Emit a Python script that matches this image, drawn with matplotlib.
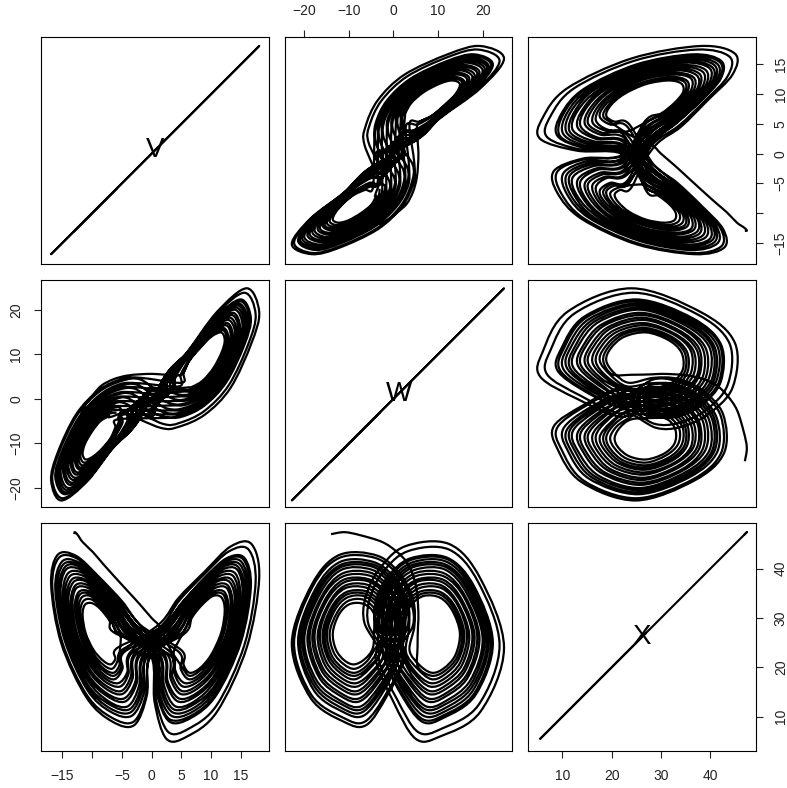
import matplotlib
matplotlib.use("Agg")
import matplotlib.pyplot as plt
from matplotlib.path import Path
from matplotlib.patches import PathPatch

plt.rcParams['font.family'] = ['Liberation Sans', 'DejaVu Sans']

# trajectory: the tail and first turn, then one row per turn
V = [
    -13,-12.9,-12.4,-11.6,-9.9,-8.4,-6.4,-4.2,-2,0,1.4,3,
    5.1,6.3,8,10.2,12,12.6,12.1,10.6,8.6,6.7,5.3,
    3.7,4.1,5.6,7.9,10.3,12.5,13.3,12.7,10.9,8.6,6.4,4.5,
    3,3.5,5.1,7.7,10.5,12.9,14,13.2,11.2,8.7,6.1,3.9,
    2.3,2.7,4.6,7.5,10.7,13.5,14.6,13.8,11.6,8.7,5.9,3.3,
    1.6,2.1,4,7.2,10.7,14,15.3,14.4,11.9,8.8,5.6,2.7,
    1,1.5,3.5,7,10.8,14.4,15.9,14.9,12.2,8.8,5.3,2.3,
    .5,1,3,6.8,10.9,14.9,16.5,15.4,12.5,8.8,5.1,2,
    .2,.7,2.8,6.3,11,15.6,17.5,16.3,13,8.9,4.7,1.9,
    0,.5,2.5,6,11,16,18.1,16.8,13.3,9,4.5,1.5,
    -5.7,-6.1,-6.9,-8.2,-9.8,-11.1,-11.6,-11.2,-10,-8.6,-7.1,-6.1,
    -5,-5.4,-6.4,-8.1,-10,-11.7,-12.3,-11.8,-10.4,-8.6,-6.8,-5.6,
    -4.6,-4.9,-6.2,-8,-10.2,-12.1,-12.9,-12.3,-10.7,-8.6,-6.6,-5.1,
    -3.4,-3.9,-5.3,-7.8,-10.4,-12.7,-13.6,-12.9,-11,-8.6,-6.3,-4.2,
    -2.7,-3.2,-4.9,-7.6,-10.6,-13.2,-14.3,-13.5,-11.4,-8.7,-6,-3.6,
    -2,-2.5,-4.4,-7.4,-10.7,-13.7,-14.9,-14.1,-11.7,-8.7,-5.8,-3.1,
    -1.3,-1.8,-3.7,-7.1,-10.8,-14.2,-15.6,-14.6,-12.1,-8.8,-5.4,-2.5,
    -.8,-1.2,-3.3,-6.9,-10.8,-14.6,-16.2,-15.1,-12.3,-8.8,-5.3,-2.1,
    -.3,-.8,-2.9,-6.6,-10.9,-15.2,-16.9,-15.8,-12.7,-8.9,-4.9,-1.7,
    5,5.4,6.4,8.1,10,11.7,12.3,11.8,10.4,8.6,6.8,5.6,
    4.6,4.9,6.2,8,10.2,12.1,12.9,12.3,10.7,8.6,6.6,5.1,
    3.4,3.9,5.3,7.8,10.4,12.7,13.6,12.9,11,8.6,6.3,4.2,
    2.7,3.2,4.9,7.6,10.6,13.2,14.3,13.5,11.4,8.7,6,3.6,
    2,2.5,4.4,7.4,10.7,13.7,14.9,14.1,11.7,8.7,5.8,3.1,
    1.3,1.8,3.7,7.1,10.8,14.2,15.6,14.6,12.1,8.8,5.4,2.5,
    .8,1.2,3.3,6.9,10.8,14.6,16.2,15.1,12.3,8.8,5.3,2.1,
    .4,.9,3,6.7,10.9,15,16.7,15.6,12.6,8.9,5.1,1.8,
    -5.3,-5.8,-6.7,-8.2,-9.9,-11.4,-12,-11.5,-10.2,-8.6,-7,-5.9,
    -4.8,-5.1,-6.3,-8,-10.2,-12,-12.6,-12.1,-10.6,-8.6,-6.7,-5.3,
    -3.7,-4.1,-5.6,-7.9,-10.3,-12.5,-13.3,-12.7,-10.9,-8.6,-6.4,-4.5,
    -3,-3.5,-5.1,-7.7,-10.5,-12.9,-14,-13.2,-11.2,-8.7,-6.1,-3.9,
    -2.3,-2.7,-4.6,-7.5,-10.7,-13.5,-14.6,-13.8,-11.6,-8.7,-5.9,-3.3,
    -1.6,-2.1,-4,-7.2,-10.7,-14,-15.3,-14.4,-11.9,-8.8,-5.6,-2.7,
    -1,-1.5,-3.5,-7,-10.8,-14.4,-15.9,-14.9,-12.2,-8.8,-5.3,-2.3,
    -.4,-.9,-3,-6.7,-10.9,-15,-16.7,-15.6,-12.6,-8.9,-5.1,-1.8,
]
W = [
    -14,-11,-7.5,-2.5,.8,3,4.4,5.2,5.5,5.6,5.5,5.4,
    5.5,8.5,11.4,14.3,15.4,13.6,10.6,6.7,3.8,2.2,2,
    2.3,5,8.3,11.6,15,16.5,14.4,10.9,6.3,2.9,1.1,1,
    1.4,4.4,8.1,11.7,15.8,17.7,15.1,11.1,5.9,2.1,.1,-.1,
    .5,3.8,7.7,11.7,16.5,18.8,15.9,11.4,5.4,1.2,-.9,-1.1,
    -.3,3.1,7.3,11.6,17.2,20,16.5,11.6,4.9,.3,-2,-2.2,
    -1.1,2.5,7,11.5,17.7,21,17.2,11.8,4.4,-.4,-2.9,-3.1,
    -1.8,1.8,6.5,11.3,18.2,21.9,17.8,12.1,4,-1.2,-3.7,-4,
    -3.3,.7,5.5,10.9,19.1,23.8,19,12.4,3.1,-2.7,-5.4,-5.6,
    -4,0,5,10.5,19.5,24.8,19.5,12.5,2.5,-3.5,-6.3,-6.5,
    -4.6,-6.4,-8.8,-11,-12.9,-13.6,-12.3,-10.1,-7.3,-5,-3.9,-3.7,
    -3.6,-5.8,-8.6,-11.3,-13.9,-14.9,-13.2,-10.5,-6.9,-4.1,-2.7,-2.5,
    -2.8,-5.4,-8.5,-11.4,-14.6,-15.9,-13.9,-10.7,-6.5,-3.4,-1.7,-1.6,
    -1.9,-4.8,-8.2,-11.7,-15.4,-17,-14.6,-11,-6.1,-2.5,-.7,-.5,
    -1,-4.1,-7.9,-11.7,-16.1,-18.2,-15.4,-11.3,-5.7,-1.7,.3,.5,
    -.2,-3.5,-7.6,-11.7,-16.7,-19.3,-16.1,-11.5,-5.2,-.8,1.3,1.5,
    .7,-2.8,-7.1,-11.6,-17.4,-20.5,-16.9,-11.8,-4.7,0,2.4,2.6,
    1.4,-2.2,-6.7,-11.4,-17.9,-21.4,-17.5,-11.9,-4.3,.8,3.3,3.5,
    2.5,-1.4,-6.1,-11.2,-18.6,-22.8,-18.3,-12.1,-3.5,1.9,4.5,4.7,
    3.6,5.8,8.6,11.3,13.9,14.9,13.2,10.5,6.9,4.1,2.7,2.5,
    2.8,5.4,8.5,11.4,14.6,15.9,13.9,10.7,6.5,3.4,1.7,1.6,
    1.9,4.8,8.2,11.7,15.4,17,14.6,11,6.1,2.5,.7,.5,
    1,4.1,7.9,11.7,16.1,18.2,15.4,11.3,5.7,1.7,-.3,-.5,
    .2,3.5,7.6,11.7,16.7,19.3,16.1,11.5,5.2,.8,-1.3,-1.5,
    -.7,2.8,7.1,11.6,17.4,20.5,16.9,11.8,4.7,0,-2.4,-2.6,
    -1.4,2.2,6.7,11.4,17.9,21.4,17.5,11.9,4.3,-.8,-3.3,-3.5,
    -2.1,1.6,6.4,11.3,18.4,22.3,18.1,12.1,3.8,-1.5,-4,-4.3,
    -4.1,-6.1,-8.7,-11.1,-13.4,-14.3,-12.7,-10.3,-7.1,-4.6,-3.3,-3.1,
    -3.2,-5.5,-8.5,-11.4,-14.3,-15.4,-13.6,-10.6,-6.7,-3.8,-2.2,-2,
    -2.3,-5,-8.3,-11.6,-15,-16.5,-14.4,-10.9,-6.3,-2.9,-1.1,-1,
    -1.4,-4.4,-8.1,-11.7,-15.8,-17.7,-15.1,-11.1,-5.9,-2.1,-.1,.1,
    -.5,-3.8,-7.7,-11.7,-16.5,-18.8,-15.9,-11.4,-5.4,-1.2,.9,1.1,
    .3,-3.1,-7.3,-11.6,-17.2,-20,-16.5,-11.6,-4.9,-.3,2,2.2,
    1.1,-2.5,-7,-11.5,-17.7,-21,-17.2,-11.8,-4.4,.4,2.9,3.1,
    2.1,-1.6,-6.4,-11.3,-18.4,-22.3,-18.1,-12.1,-3.8,1.5,4,4.3,
]
X = [
    47,47.4,46.8,45.4,43.4,41.3,38.6,35.7,32.8,30,28.2,24,
    20.1,18.3,19.2,22.1,26.8,31.8,34.7,35,33.3,30.3,27,
    22.9,19,16.8,17.8,21,26.7,32.6,36,36.2,34.1,30.8,27,
    22.6,18.1,15.2,16.3,19.8,26.5,33.3,37.2,37.5,35,31.3,27.2,
    22.3,17.2,13.7,14.7,18.6,26.2,34.1,38.4,38.6,35.8,31.7,27.4,
    22.1,16.3,12.1,13.1,17.3,25.8,34.9,39.8,39.8,36.6,32.2,27.7,
    22.1,15.6,10.9,11.7,16.1,25.5,35.5,40.8,40.8,37.2,32.6,27.9,
    22,14.9,9.5,10.3,14.8,25.2,36.2,41.9,41.8,37.9,33,28.2,
    22,13.7,6.9,7.6,12.4,24.5,37.3,43.9,43.5,38.9,33.6,28.7,
    22,13,5.5,6,11,24,38,45,44.5,39.5,34,29,
    24,21.7,20.6,21.4,23.6,27,30.6,32.7,33,31.8,29.5,26.9,
    23.5,20.5,18.9,19.8,22.5,27,31.5,34.1,34.5,32.8,30.1,26.9,
    23.1,19.7,17.6,18.5,21.6,26.8,32.2,35.2,35.5,33.7,30.5,27,
    22.8,18.6,16.1,17.1,20.5,26.6,32.8,36.5,36.8,34.5,31,27.1,
    22.5,17.7,14.6,15.6,19.3,26.3,33.6,37.7,37.9,35.3,31.5,27.3,
    22.3,16.8,13.1,14.1,18,26,34.4,39,39.2,36.1,32,27.6,
    22.1,15.9,11.5,12.5,16.6,25.7,35.2,40.3,40.4,36.9,32.4,27.7,
    22,15.2,10.2,11,15.4,25.4,35.9,41.4,41.3,37.6,32.8,28,
    21.9,14.3,8.3,9,13.8,24.9,36.8,42.8,42.6,38.4,33.3,28.4,
    23.5,20.5,18.9,19.8,22.5,27,31.5,34.1,34.5,32.8,30.1,26.9,
    23.1,19.7,17.6,18.5,21.6,26.8,32.2,35.2,35.5,33.7,30.5,27,
    22.8,18.6,16.1,17.1,20.5,26.6,32.8,36.5,36.8,34.5,31,27.1,
    22.5,17.7,14.6,15.6,19.3,26.3,33.6,37.7,37.9,35.3,31.5,27.3,
    22.3,16.8,13.1,14.1,18,26,34.4,39,39.2,36.1,32,27.6,
    22.1,15.9,11.5,12.5,16.6,25.7,35.2,40.3,40.4,36.9,32.4,27.7,
    22,15.2,10.2,11,15.4,25.4,35.9,41.4,41.3,37.6,32.8,28,
    22,14.7,9,9.8,14.4,25,36.4,42.2,42.1,38.1,33.1,28.3,
    23.8,21.1,19.7,20.6,23,27,31,33.4,33.8,32.3,29.8,26.9,
    23.3,20.1,18.3,19.2,22.1,26.8,31.8,34.7,35,33.3,30.3,27,
    22.9,19,16.8,17.8,21,26.7,32.6,36,36.2,34.1,30.8,27,
    22.6,18.1,15.2,16.3,19.8,26.5,33.3,37.2,37.5,35,31.3,27.2,
    22.3,17.2,13.7,14.7,18.6,26.2,34.1,38.4,38.6,35.8,31.7,27.4,
    22.1,16.3,12.1,13.1,17.3,25.8,34.9,39.8,39.8,36.6,32.2,27.7,
    22.1,15.6,10.9,11.7,16.1,25.5,35.5,40.8,40.8,37.2,32.6,27.9,
    22,14.7,9,9.8,14.4,25,36.4,42.2,42.1,38.1,33.1,28.3,
]

# the order the path takes the rows in, it keeps changing wing
turn_order = [0, 16, 17, 15, 18, 14, 19, 13, 20, 12, 21, 11, 22, 10, 23, 9, 24, 8,
              1, 32, 2, 31, 3, 30, 4, 29, 5, 28, 6, 27, 7, 26, 25]
HEAD = 23
TURN = 12

names = ['V', 'W', 'X']
limits = [(-18.55, 19.7), (-24.33, 26.66), (3.1, 49.2)]
ticks = [[-15, -10, -5, 0, 5, 10, 15], [-20, -10, 0, 10, 20], [10, 20, 30, 40]]
tick_labels = [['\u221215', '', '\u22125', '0', '5', '10', '15'],
               ['\u221220', '\u221210', '0', '10', '20'],
               ['10', '20', '30', '40']]

col_px = [(41.3, 268.7), (285, 512.3), (528.3, 755.7)]
row_px = [(36.5, 264), (280, 507.3), (523.3, 750.7)]


def in_order(vals):
    out = vals[:HEAD]
    for k in turn_order:
        out = out + vals[HEAD + k * TURN:HEAD + (k + 1) * TURN]
    return out


def curve(xs, ys):
    # bezier segments through the read points, so the turns stay round
    verts = [(xs[0], ys[0])]
    codes = [Path.MOVETO]
    n = len(xs)
    for i in range(n - 1):
        a = max(i - 1, 0)
        d = min(i + 2, n - 1)
        verts.append((xs[i] + (xs[i + 1] - xs[a]) / 6, ys[i] + (ys[i + 1] - ys[a]) / 6))
        verts.append((xs[i + 1] - (xs[d] - xs[i]) / 6, ys[i + 1] - (ys[d] - ys[i]) / 6))
        verts.append((xs[i + 1], ys[i + 1]))
        codes += [Path.CURVE4, Path.CURVE4, Path.CURVE4]
    return Path(verts, codes)


series = [in_order(V), in_order(W), in_order(X)]

fig = plt.figure(figsize=(7.87, 7.88), dpi=100)
W_PX, H_PX = 787.0, 788.0

for r in range(3):
    for c in range(3):
        l, rt = col_px[c]
        t, b = row_px[r]
        ax = fig.add_axes([l / W_PX, 1 - b / H_PX, (rt - l) / W_PX, (b - t) / H_PX])
        ax.set_xlim(limits[c])
        ax.set_ylim(limits[r])
        if r == c:
            ax.plot(series[c], series[r], color='black', lw=1.5)
            ax.text(0.5, 0.5, names[r], transform=ax.transAxes, fontsize=20,
                    ha='center', va='center', color='black')
        else:
            ax.add_patch(PathPatch(curve(series[c], series[r]), fill=False,
                                   edgecolor='black', lw=1.6))
        ax.set_xticks([])
        ax.set_yticks([])
        for s in ax.spines.values():
            s.set_linewidth(0.8)
        ax.tick_params(length=5, width=0.8, pad=8, labelsize=10, color='#222222',
                       labelcolor='#222222')
        if r == 2 and c in (0, 2):
            ax.set_xticks(ticks[c])
            ax.set_xticklabels(tick_labels[c])
        if r == 0 and c == 1:
            ax.xaxis.tick_top()
            ax.set_xticks(ticks[c])
            ax.set_xticklabels(tick_labels[c])
        if c == 0 and r == 1:
            ax.set_yticks(ticks[r])
            ax.set_yticklabels(tick_labels[r], rotation=90, va='center')
        if c == 2 and r in (0, 2):
            ax.yaxis.tick_right()
            ax.set_yticks(ticks[r])
            ax.set_yticklabels(tick_labels[r], rotation=90, va='center')

fig.savefig('out.png', dpi=100)
